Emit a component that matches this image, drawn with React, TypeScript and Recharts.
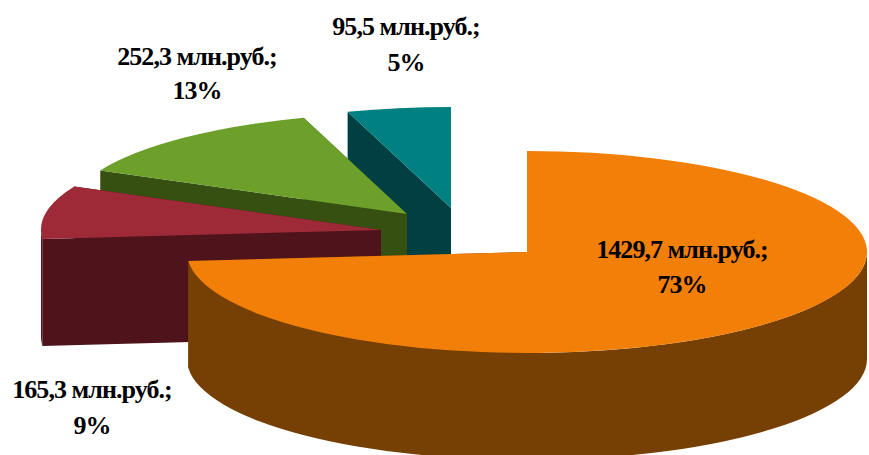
import { PieChart, Pie } from 'recharts'

// drawn back to front, so the list runs teal -> orange and the pie goes round anticlockwise
const amounts = [95.5, 252.3, 165.3, 1429.7]
const amountLabels = ['95,5', '252,3', '165,3', '1429,7']
const shares = ['5%', '13%', '9%', '73%']

const topColors = ['#008080', '#6ca02a', '#9e2a37', '#f17f08']
const sideColors = ['#004042', '#365012', '#4f141b', '#763f03']

const tableData = amounts.map((value, i) => ({ name: amountLabels[i], value, fill: topColors[i] }))

const CX = 527
const CY = 252
const RX = 340
const RY = 101
const DEPTH = 107

// how far each slice has been pulled out of the pie
const explode = [
  [-76, -44],
  [-120, -38],
  [-146, -22],
  [0, 0],
]
const labelPos = [
  [406, 26, 62],
  [197, 56, 90],
  [92, 389, 425],
  [682, 249, 284],
]

const rad = (a: number) => (a * Math.PI) / 180

function Slice3D(props: any) {
  const { startAngle, endAngle, index } = props
  const i = index ?? amounts.indexOf(props.value)
  const [dx, dy] = explode[i]
  const x0 = CX + dx
  const y0 = CY + dy
  const px = (a: number) => x0 + RX * Math.cos(rad(a))
  const py = (a: number) => y0 - RY * Math.sin(rad(a))
  const large = endAngle - startAngle > 180 ? 1 : 0

  const cutFace = (a: number) =>
    `M${x0},${y0} L${px(a)},${py(a)} L${px(a)},${py(a) + DEPTH} L${x0},${y0 + DEPTH} Z`

  // outer wall only shows on the lower half of the ellipse
  const wallFrom = Math.max(startAngle, 180)
  const wallTo = Math.min(endAngle, 360)
  const wall =
    wallTo > wallFrom
      ? `M${px(wallFrom)},${py(wallFrom)} A${RX},${RY} 0 0 0 ${px(wallTo)},${py(wallTo)} ` +
        `L${px(wallTo)},${py(wallTo) + DEPTH} A${RX},${RY} 0 0 1 ${px(wallFrom)},${py(wallFrom) + DEPTH} Z`
      : null

  const top = `M${x0},${y0} L${px(startAngle)},${py(startAngle)} A${RX},${RY} 0 ${large} 0 ${px(endAngle)},${py(endAngle)} Z`

  return (
    <g>
      <path d={cutFace(startAngle)} fill={sideColors[i]} />
      <path d={cutFace(endAngle)} fill={sideColors[i]} />
      {wall && <path d={wall} fill={sideColors[i]} />}
      <path d={top} fill={topColors[i]} />
    </g>
  )
}

function SliceLabel({ index }: any) {
  const [x, y1, y2] = labelPos[index]
  const style = { fontFamily: '"Liberation Serif", serif', fontWeight: 700, fontSize: 26, letterSpacing: -0.95 }
  return (
    <g>
      <text x={x} y={y1} textAnchor="middle" dominantBaseline="central" fill="#000" style={style}>
        {amountLabels[index]} млн.руб.;
      </text>
      <text x={x} y={y2} textAnchor="middle" dominantBaseline="central" fill="#000" style={style}>
        {shares[index]}
      </text>
    </g>
  )
}

export default function App() {
  return (
    <div style={{ position: 'absolute', left: 0, top: 0, width: 869, height: 455, overflow: 'hidden', background: '#fff' }}>
      <PieChart width={869} height={455} margin={{ top: 0, right: 0, bottom: 0, left: 0 }}>
        <Pie
          data={tableData}
          dataKey="value"
          nameKey="name"
          cx={CX}
          cy={CY}
          innerRadius={0}
          outerRadius={RX}
          startAngle={90}
          endAngle={450}
          stroke="none"
          shape={Slice3D}
          label={SliceLabel}
          labelLine={false}
          isAnimationActive={false}
        />
      </PieChart>
    </div>
  )
}
